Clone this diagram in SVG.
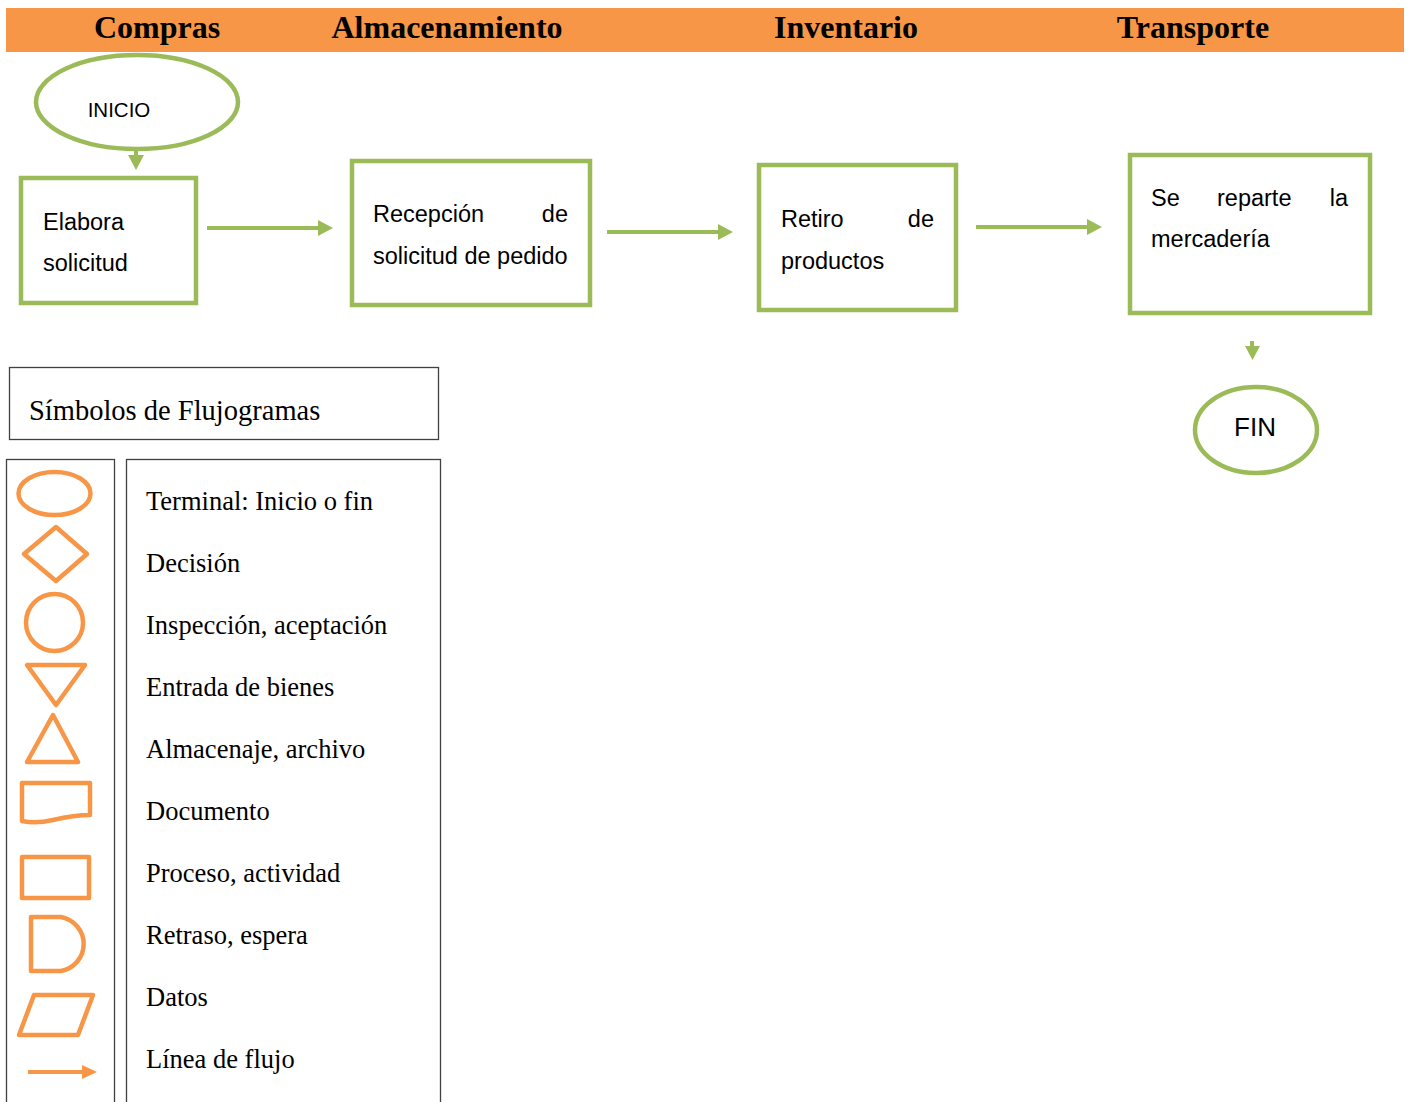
<svg xmlns="http://www.w3.org/2000/svg" width="1413" height="1102" viewBox="0 0 1413 1102">
<style>
.hdr{font-family:"Liberation Serif","Times New Roman",serif;font-weight:bold;font-size:32px;fill:#000}
.node{fill:#fff;stroke:#9BBB59;stroke-width:4.5}
.ntx{font-family:"Liberation Sans",Arial,sans-serif;font-size:23.5px;fill:#000}
.conn{stroke:#9BBB59;stroke-width:4;fill:none}
.head{fill:#9BBB59}
.leg{fill:#fff;stroke:#404040;stroke-width:1.3}
.ltx{font-family:"Liberation Serif","Times New Roman",serif;font-size:26.5px;fill:#000}
.sym{fill:none;stroke:#F79646;stroke-width:4.5;stroke-linejoin:round}
</style>
<defs>
<filter id="sh" x="-20%" y="-100%" width="140%" height="300%"><feGaussianBlur stdDeviation="1.5"/></filter>
</defs>
<rect width="1413" height="1102" fill="#fff"/>
<g id="header">
<rect x="6" y="8" width="1398" height="44" fill="#F79646"/>
<text class="hdr" x="157" y="38" text-anchor="middle">Compras</text>
<text class="hdr" x="447" y="38" text-anchor="middle">Almacenamiento</text>
<text class="hdr" x="846" y="38" text-anchor="middle">Inventario</text>
<text class="hdr" x="1193" y="38" text-anchor="middle">Transporte</text>
</g>
<g id="connectors">
<line class="conn" x1="136" y1="150" x2="136" y2="157"/>
<polygon class="head" points="128,155 144,155 136,170"/>
<line class="conn" x1="207" y1="228" x2="320" y2="228"/>
<polygon class="head" points="318,220 333,228 318,236"/>
<line class="conn" x1="607" y1="232" x2="720" y2="232"/>
<polygon class="head" points="718,224 733,232 718,240"/>
<line class="conn" x1="976" y1="227" x2="1089" y2="227"/>
<polygon class="head" points="1087,219 1102,227 1087,235"/>
<line class="conn" x1="1252" y1="341" x2="1252" y2="348"/>
<polygon class="head" points="1245,346 1260,346 1252.5,360"/>
</g>
<g id="inicio">
<ellipse class="node" cx="137" cy="102" rx="101" ry="47"/>
<text class="ntx" x="119" y="117" text-anchor="middle" style="font-size:20.5px">INICIO</text>
</g>
<g id="elabora">
<rect class="node" x="21" y="178" width="175" height="125"/>
<text class="ntx" x="43" y="230">Elabora</text>
<text class="ntx" x="43" y="271">solicitud</text>
</g>
<g id="recepcion">
<rect class="node" x="352" y="161" width="238" height="144"/>
<text class="ntx" x="373" y="222">Recepción</text>
<text class="ntx" x="568" y="222" text-anchor="end">de</text>
<text class="ntx" x="373" y="264">solicitud de pedido</text>
</g>
<g id="retiro">
<rect class="node" x="759" y="165" width="197" height="145"/>
<text class="ntx" x="781" y="227">Retiro</text>
<text class="ntx" x="934" y="227" text-anchor="end">de</text>
<text class="ntx" x="781" y="269">productos</text>
</g>
<g id="reparte">
<rect class="node" x="1130" y="155" width="240" height="158"/>
<text class="ntx" x="1151" y="206">Se</text>
<text class="ntx" x="1217" y="206">reparte</text>
<text class="ntx" x="1348" y="206" text-anchor="end">la</text>
<text class="ntx" x="1151" y="247">mercadería</text>
</g>
<g id="fin">
<ellipse class="node" cx="1256" cy="430" rx="61" ry="43"/>
<text class="ntx" x="1255" y="436" text-anchor="middle" style="font-size:26px">FIN</text>
</g>
<g id="legend">
<rect class="leg" x="9.5" y="367.5" width="429" height="72"/>
<text class="ltx" x="29" y="420" style="font-size:28.5px">Símbolos de Flujogramas</text>
<rect class="leg" x="6.5" y="459.5" width="108" height="660"/>
<rect class="leg" x="126.5" y="459.5" width="314" height="660"/>
<ellipse class="sym" cx="54.5" cy="493.5" rx="36" ry="21.5"/>
<polygon class="sym" points="56,527 87,554 56,581 24,554"/>
<circle class="sym" cx="54.5" cy="622.5" r="28.5"/>
<polygon class="sym" points="27,665 85,665 56,705"/>
<polygon class="sym" points="53,715 78,762 27,762"/>
<path class="sym" d="M22,783 H90 V815 C76,815 66,817 53,820 C40,823 31,823 22,821 Z"/>
<rect class="sym" x="22" y="857" width="67" height="41"/>
<path class="sym" d="M31,917 H61 A28,27.5 0 0 1 61,971 H31 Z"/>
<polygon class="sym" points="34,995 93,995 78,1035 19,1035"/>
<line x1="30" y1="1076" x2="86" y2="1076" stroke="#808080" stroke-width="4" filter="url(#sh)" opacity="0.6"/>
<line x1="28" y1="1072" x2="84" y2="1072" stroke="#F79646" stroke-width="4"/>
<polygon points="82,1065 97,1072 82,1079" fill="#F79646"/>
<text class="ltx" x="146" y="510">Terminal: Inicio o fin</text>
<text class="ltx" x="146" y="572">Decisión</text>
<text class="ltx" x="146" y="634">Inspección, aceptación</text>
<text class="ltx" x="146" y="696">Entrada de bienes</text>
<text class="ltx" x="146" y="758">Almacenaje, archivo</text>
<text class="ltx" x="146" y="820">Documento</text>
<text class="ltx" x="146" y="882">Proceso, actividad</text>
<text class="ltx" x="146" y="944">Retraso, espera</text>
<text class="ltx" x="146" y="1006">Datos</text>
<text class="ltx" x="146" y="1068">Línea de flujo</text>
</g>
</svg>
